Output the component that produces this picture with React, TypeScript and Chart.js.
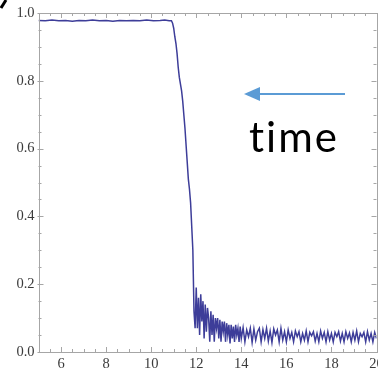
import { useEffect, useRef } from "react";
import { Chart, registerables } from "chart.js";

Chart.register(...registerables);

const plateauTime = [5.0, 5.3, 5.6, 5.9, 6.2, 6.5, 6.8, 7.1, 7.4, 7.7, 8.0, 8.3, 8.6, 8.9, 9.2, 9.5, 9.8, 10.1, 10.4, 10.6, 10.8, 10.9];
const plateauSignal = [0.978, 0.977, 0.979, 0.977, 0.978, 0.976, 0.978, 0.977, 0.979, 0.977, 0.978, 0.976, 0.978, 0.977, 0.978, 0.977, 0.979, 0.977, 0.978, 0.979, 0.977, 0.977];

const dropTime = [10.95, 11.0, 11.05, 11.1, 11.15, 11.2, 11.25, 11.3, 11.35, 11.4, 11.45, 11.5, 11.55, 11.6, 11.65, 11.7, 11.75, 11.8, 11.85, 11.9, 11.95];
const dropSignal = [0.97, 0.955, 0.93, 0.91, 0.88, 0.84, 0.81, 0.79, 0.77, 0.74, 0.7, 0.66, 0.61, 0.56, 0.51, 0.48, 0.44, 0.37, 0.3, 0.12, 0.07];

const earlyTailTime = [
  12.0, 12.05, 12.1, 12.15, 12.2, 12.25, 12.3, 12.35, 12.4, 12.45,
  12.5, 12.55, 12.6, 12.65, 12.7, 12.75, 12.8, 12.85, 12.9, 12.95,
  13.0, 13.05, 13.1, 13.15, 13.2, 13.25, 13.3, 13.35, 13.4, 13.45,
  13.5, 13.55, 13.6, 13.65, 13.7, 13.75, 13.8, 13.85, 13.9, 13.95,
  14.0,
];
const earlyTailSignal = [
  0.19, 0.07, 0.16, 0.05, 0.17, 0.09, 0.15, 0.04, 0.14, 0.06,
  0.13, 0.1, 0.03, 0.12, 0.05, 0.11, 0.03, 0.1, 0.07, 0.1,
  0.04, 0.095, 0.03, 0.09, 0.06, 0.09, 0.03, 0.085, 0.05, 0.08,
  0.025, 0.08, 0.04, 0.075, 0.03, 0.08, 0.05, 0.07, 0.03, 0.075,
  0.04,
];

const lateTailTime = [
  14.08, 14.16, 14.24, 14.32, 14.4, 14.48, 14.56, 14.64, 14.72, 14.8, 14.88, 14.96, 15.04, 15.12, 15.2, 15.28, 15.36, 15.44, 15.52, 15.6, 15.68, 15.76, 15.84, 15.92, 16.0,
  16.08, 16.16, 16.24, 16.32, 16.4, 16.48, 16.56, 16.64, 16.72, 16.8, 16.88, 16.96, 17.04, 17.12, 17.2, 17.28, 17.36, 17.44, 17.52, 17.6, 17.68, 17.76, 17.84, 17.92, 18.0,
  18.08, 18.16, 18.24, 18.32, 18.4, 18.48, 18.56, 18.64, 18.72, 18.8, 18.88, 18.96, 19.04, 19.12, 19.2, 19.28, 19.36, 19.44, 19.52, 19.6, 19.68, 19.76, 19.84, 19.92, 20.0,
];
const lateTailSignal = [
  0.072, 0.03, 0.065, 0.045, 0.07, 0.028, 0.068, 0.035, 0.06, 0.07, 0.03, 0.066, 0.04, 0.07, 0.032, 0.062, 0.028, 0.068, 0.05, 0.065, 0.03, 0.07, 0.035, 0.06, 0.03,
  0.065, 0.04, 0.058, 0.03, 0.062, 0.045, 0.06, 0.03, 0.055, 0.035, 0.062, 0.03, 0.058, 0.048, 0.06, 0.032, 0.055, 0.03, 0.062, 0.04, 0.058, 0.03, 0.06, 0.035, 0.055,
  0.03, 0.058, 0.045, 0.06, 0.032, 0.055, 0.03, 0.06, 0.04, 0.056, 0.03, 0.058, 0.035, 0.062, 0.03, 0.055, 0.045, 0.058, 0.03, 0.06, 0.035, 0.055, 0.03, 0.058, 0.04,
];

const xTickLabels = ["6", "8", "10", "12", "14", "16", "18", "20"];
const yTickLabels = ["0.0", "0.2", "0.4", "0.6", "0.8", "1.0"];

const framePlugin = {
  id: "mmaFrame",
  afterDraw(chart: any) {
    const { ctx, chartArea } = chart;
    const { left, right, top, bottom } = chartArea;
    const xs = chart.scales.x;
    const ys = chart.scales.y;
    ctx.save();
    ctx.strokeStyle = "#a6a6a6";
    ctx.lineWidth = 1;
    ctx.strokeRect(Math.round(left) + 0.5, Math.round(top) + 0.5, Math.round(right - left), Math.round(bottom - top));
    const majorX = xTickLabels.map(Number);
    ctx.beginPath();
    for (let v = 5; v <= 20.001; v += 0.5) {
      const px = Math.round(xs.getPixelForValue(v)) + 0.5;
      const isMajor = majorX.some((m) => Math.abs(m - v) < 1e-6);
      const len = isMajor ? 5 : 3;
      ctx.moveTo(px, bottom);
      ctx.lineTo(px, bottom - len);
      ctx.moveTo(px, top);
      ctx.lineTo(px, top + len);
    }
    const majorY = yTickLabels.map(Number);
    for (let v = 0; v <= 1.0001; v += 0.05) {
      const py = Math.round(ys.getPixelForValue(v)) + 0.5;
      const isMajor = majorY.some((m) => Math.abs(m - v) < 1e-6);
      const len = isMajor ? 5 : 3;
      ctx.moveTo(left - (isMajor ? 1 : 0), py);
      ctx.lineTo(left + len, py);
      ctx.moveTo(right, py);
      ctx.lineTo(right - len, py);
    }
    ctx.stroke();

    ctx.fillStyle = "#3a3a3a";
    ctx.font = "14.5px 'Liberation Serif', serif";
    ctx.textAlign = "center";
    ctx.textBaseline = "top";
    xTickLabels.forEach((t) => {
      ctx.fillText(t, xs.getPixelForValue(Number(t)), bottom + 5);
    });
    ctx.textAlign = "right";
    ctx.textBaseline = "middle";
    yTickLabels.forEach((t) => {
      ctx.fillText(t, left - 4, ys.getPixelForValue(Number(t)));
    });

    // arrow annotation
    ctx.strokeStyle = "#5B9BD5";
    ctx.fillStyle = "#5B9BD5";
    ctx.lineWidth = 2;
    ctx.beginPath();
    ctx.moveTo(345, 94);
    ctx.lineTo(258, 94);
    ctx.stroke();
    ctx.beginPath();
    ctx.moveTo(244, 94);
    ctx.lineTo(260, 87);
    ctx.lineTo(260, 101);
    ctx.closePath();
    ctx.fill();

    ctx.fillStyle = "#000";
    ctx.font = "42px Lato, sans-serif";
    (ctx as any).letterSpacing = "2px";
    ctx.textAlign = "left";
    ctx.textBaseline = "alphabetic";
    ctx.fillText("time", 249, 152);
    (ctx as any).letterSpacing = "0px";

    // fragment of a panel label at top-left corner
    ctx.strokeStyle = "#000";
    ctx.lineWidth = 3;
    ctx.beginPath();
    ctx.moveTo(1, 8);
    ctx.lineTo(6, 0);
    ctx.stroke();
    ctx.restore();
  },
};

export default function App() {
  const ref = useRef<HTMLCanvasElement>(null);
  useEffect(() => {
    if (!ref.current) return;
    const points = [
      ...plateauTime.map((t, i) => ({ x: t, y: plateauSignal[i] })),
      ...dropTime.map((t, i) => ({ x: t, y: dropSignal[i] })),
      ...earlyTailTime.map((t, i) => ({ x: t, y: earlyTailSignal[i] })),
      ...lateTailTime.map((t, i) => ({ x: t, y: lateTailSignal[i] })),
    ];
    const chart = new Chart(ref.current, {
      type: "line",
      data: {
        datasets: [
          {
            data: points,
            borderColor: "#3d3d99",
            borderWidth: 1.5,
            pointRadius: 0,
            tension: 0,
            fill: false,
          },
        ],
      },
      options: {
        animation: false,
        responsive: false,
        maintainAspectRatio: false,
        layout: { padding: { left: 38.5, right: 1.5, top: 13, bottom: 19 } },
        plugins: { legend: { display: false }, tooltip: { enabled: false } },
        scales: {
          x: { type: "linear", min: 5, max: 20, display: false },
          y: { type: "linear", min: 0, max: 1, display: false },
        },
      },
      plugins: [framePlugin],
    });
    return () => chart.destroy();
  }, []);
  return (
    <div style={{ position: "fixed", left: 0, top: 0, width: 378, height: 371, overflow: "hidden", background: "#fff" }}>
      <canvas ref={ref} width={378} height={371} style={{ display: "block" }} />
    </div>
  );
}
